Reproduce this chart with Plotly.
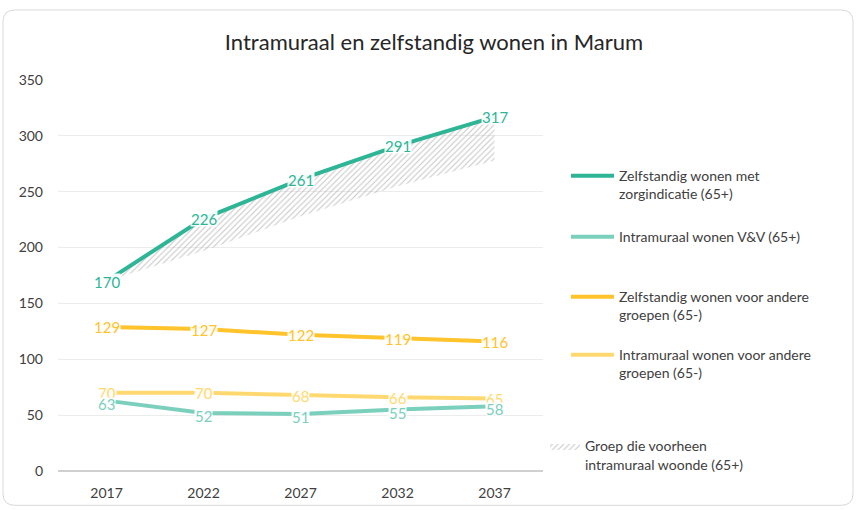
import plotly.graph_objects as go

years = ["2017", "2022", "2027", "2032", "2037"]
zelf_zorg = [170, 226, 261, 291, 317]
intra_vv = [63, 52, 51, 55, 58]
zelf_andere = [129, 127, 122, 119, 116]
intra_andere = [70, 70, 68, 66, 65]
groep_lower = [170, 197, 228, 255, 278]

names = [
    "Zelfstandig wonen met<br>zorgindicatie (65+)",
    "Intramuraal wonen V&V (65+)",
    "Zelfstandig wonen voor andere<br>groepen (65-)",
    "Intramuraal wonen voor andere<br>groepen (65-)",
    "Groep die voorheen<br>intramuraal woonde (65+)",
]

C_GREEN = "#2db596"
C_TEAL = "#7bcfbd"
C_ORANGE = "#ffc32c"
C_YELLOW = "#ffd970"
FONT = "Lato, 'Open Sans', sans-serif"

fig = go.Figure()

# hatched band
fig.add_trace(go.Scatter(x=years, y=groep_lower, mode="lines", line=dict(width=0),
                         showlegend=False, hoverinfo="skip"))
fig.add_trace(go.Scatter(x=years, y=zelf_zorg, mode="lines", line=dict(width=0),
                         fill="tonexty", fillcolor="rgba(0,0,0,0)",
                         fillpattern=dict(shape="/", fgcolor="#8c8c8c", bgcolor="rgba(0,0,0,0)",
                                          size=4, solidity=0.25),
                         name=names[4], legend="legend5"))

series = [
    (zelf_andere, C_ORANGE, names[2], "legend3"),
    (intra_andere, C_YELLOW, names[3], "legend4"),
    (intra_vv, C_TEAL, names[1], "legend2"),
    (zelf_zorg, C_GREEN, names[0], "legend"),
]
for ys, col, nm, lg in series:
    fig.add_trace(go.Scatter(x=years, y=ys, mode="lines", line=dict(color=col, width=4),
                             name=nm, legend=lg))

# data labels (x as category index)
label_sets = [
    (zelf_andere, C_ORANGE, 15, 0),
    (intra_andere, C_YELLOW, 15, 0),
    (intra_vv, C_TEAL, 12, -3),
    (zelf_zorg, C_GREEN, 15, 0),
]
for ys, col, hgt, ysh in label_sets:
    for i, yv in enumerate(ys):
        fig.add_annotation(x=i, y=yv, xref="x", yref="y", text=str(yv), showarrow=False,
                           font=dict(family=FONT, size=15, color=col), yshift=ysh,
                           bgcolor="rgba(255,255,255,0.92)", borderpad=0, height=hgt)

# frame (rounded) in paper coords
L, R, T, B = 58, 543, 80, 470.7
def px(xp):
    return (xp - L) / (R - L)
def py(yp):
    return (B - yp) / (B - T)
x0, x1, y0, y1 = px(3), px(853), py(505), py(10)
rx, ry = 12 / (R - L), 12 / (B - T)
path = (f"M {x0+rx},{y1} L {x1-rx},{y1} Q {x1},{y1} {x1},{y1-ry} "
        f"L {x1},{y0+ry} Q {x1},{y0} {x1-rx},{y0} L {x0+rx},{y0} "
        f"Q {x0},{y0} {x0},{y0+ry} L {x0},{y1-ry} Q {x0},{y1} {x0+rx},{y1} Z")
fig.add_shape(type="path", path=path, xref="paper", yref="paper",
              line=dict(color="#d9d9d9", width=1), layer="below")

leg_common = dict(font=dict(family=FONT, size=14, color="#404040"), bgcolor="rgba(0,0,0,0)",
                  xanchor="left", yanchor="middle", valign="top")
lx = px(566)
fig.update_layout(
    width=856, height=510,
    margin=dict(l=L, r=856 - R, t=T, b=510 - B, autoexpand=False),
    paper_bgcolor="white", plot_bgcolor="white",
    title=dict(text="Intramuraal en zelfstandig wonen in Marum", x=434 / 856, xref="container",
               y=1 - 42 / 510, yref="container", yanchor="middle", xanchor="center",
               font=dict(family=FONT, size=22, color="#262626")),
    xaxis=dict(type="category", range=[-0.5, len(years) - 0.5], showgrid=False,
               showline=False, ticks="", zeroline=False, ticklabelstandoff=12,
               automargin=False,
               tickfont=dict(family=FONT, size=14, color="#404040")),
    yaxis=dict(range=[0, 350], dtick=50, showgrid=True, gridcolor="#ececec", gridwidth=1,
               zeroline=True, zerolinecolor="#d0d0d0", zerolinewidth=2, ticks="",
               automargin=False,
               tickfont=dict(family=FONT, size=14, color="#404040"), ticklen=0,
               ticklabelstandoff=14),
    legend=dict(x=lx, y=py(185), itemwidth=43, **leg_common),
    legend2=dict(x=lx, y=py(237), itemwidth=43, **leg_common),
    legend3=dict(x=lx, y=py(306), itemwidth=43, **leg_common),
    legend4=dict(x=lx, y=py(364), itemwidth=43, **leg_common),
    legend5=dict(x=px(545), y=py(455), itemwidth=30, **leg_common),
    showlegend=True,
)

fig.write_html("out.html", config={"displayModeBar": False},
               post_script="document.body.style.margin='0';")
